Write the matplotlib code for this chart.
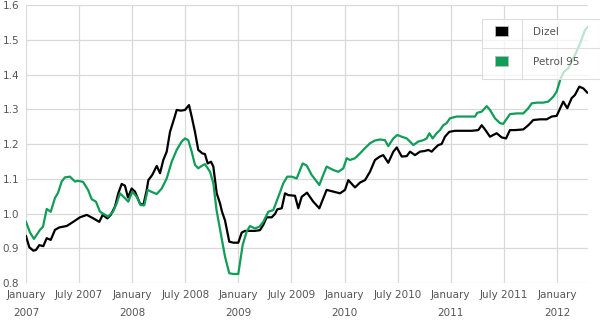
import matplotlib
matplotlib.use("Agg")
import matplotlib.pyplot as plt
from matplotlib.patches import Rectangle
from matplotlib.lines import Line2D

# Fuel prices (EUR per litre), sampled as decimal years
dizel_t = [2007.000, 2007.031, 2007.069, 2007.094, 2007.125, 2007.163, 2007.195, 2007.233,
           2007.273, 2007.314, 2007.383, 2007.445, 2007.508, 2007.572, 2007.634, 2007.690,
           2007.722, 2007.766, 2007.798, 2007.838, 2007.869, 2007.901, 2007.932, 2007.960,
           2007.995, 2008.026, 2008.073, 2008.105, 2008.137, 2008.152, 2008.189, 2008.231,
           2008.262, 2008.293, 2008.325, 2008.356, 2008.396, 2008.419, 2008.460, 2008.497,
           2008.535, 2008.560, 2008.591, 2008.622, 2008.660, 2008.685, 2008.711, 2008.742,
           2008.764, 2008.796, 2008.827, 2008.846, 2008.874, 2008.914, 2008.952, 2008.999,
           2009.031, 2009.062, 2009.109, 2009.156, 2009.203, 2009.234, 2009.266, 2009.314,
           2009.345, 2009.366, 2009.408, 2009.439, 2009.470, 2009.533, 2009.564, 2009.596,
           2009.646, 2009.705, 2009.762, 2009.831, 2009.894, 2009.957, 2010.004, 2010.035,
           2010.098, 2010.145, 2010.192, 2010.239, 2010.286, 2010.333, 2010.364, 2010.411,
           2010.459, 2010.491, 2010.538, 2010.585, 2010.616, 2010.663, 2010.710, 2010.757,
           2010.788, 2010.820, 2010.851, 2010.882, 2010.914, 2010.945, 2010.986, 2011.040,
           2011.118, 2011.197, 2011.259, 2011.291, 2011.322, 2011.369, 2011.400, 2011.432,
           2011.479, 2011.520, 2011.557, 2011.605, 2011.683, 2011.730, 2011.777, 2011.840,
           2011.903, 2011.950, 2011.997, 2012.035, 2012.059, 2012.097, 2012.138, 2012.169,
           2012.210, 2012.248, 2012.285]
dizel = [0.935, 0.903, 0.893, 0.895, 0.909, 0.906, 0.929, 0.924,
         0.953, 0.960, 0.964, 0.976, 0.989, 0.996, 0.986, 0.976,
         0.996, 0.986, 0.996, 1.020, 1.058, 1.085, 1.080, 1.046,
         1.072, 1.063, 1.029, 1.024, 1.068, 1.096, 1.111, 1.137,
         1.116, 1.154, 1.178, 1.235, 1.274, 1.298, 1.296, 1.298,
         1.312, 1.279, 1.235, 1.183, 1.173, 1.171, 1.144, 1.149,
         1.135, 1.058, 1.029, 1.005, 0.980, 0.919, 0.916, 0.916,
         0.945, 0.950, 0.950, 0.950, 0.952, 0.967, 0.989, 0.989,
         0.999, 1.012, 1.015, 1.058, 1.053, 1.051, 1.015, 1.048,
         1.060, 1.034, 1.015, 1.068, 1.063, 1.058, 1.068, 1.096,
         1.075, 1.089, 1.096, 1.120, 1.154, 1.164, 1.168, 1.146,
         1.178, 1.190, 1.164, 1.165, 1.178, 1.168, 1.178, 1.180,
         1.183, 1.178, 1.188, 1.197, 1.200, 1.221, 1.235, 1.238,
         1.238, 1.238, 1.240, 1.254, 1.242, 1.221, 1.226, 1.231,
         1.219, 1.216, 1.240, 1.240, 1.242, 1.254, 1.269, 1.271,
         1.271, 1.279, 1.281, 1.306, 1.322, 1.303, 1.332, 1.341,
         1.365, 1.360, 1.348]

petrol_t = [2007.000, 2007.038, 2007.075, 2007.132, 2007.160, 2007.195, 2007.233, 2007.273,
            2007.301, 2007.336, 2007.367, 2007.414, 2007.461, 2007.490, 2007.537, 2007.584,
            2007.619, 2007.659, 2007.697, 2007.744, 2007.772, 2007.819, 2007.854, 2007.885,
            2007.932, 2007.963, 2008.001, 2008.042, 2008.080, 2008.114, 2008.146, 2008.177,
            2008.231, 2008.278, 2008.325, 2008.372, 2008.419, 2008.466, 2008.497, 2008.528,
            2008.560, 2008.591, 2008.622, 2008.654, 2008.685, 2008.733, 2008.764, 2008.794,
            2008.827, 2008.874, 2008.914, 2008.952, 2008.999, 2009.040, 2009.078, 2009.109,
            2009.156, 2009.197, 2009.234, 2009.282, 2009.329, 2009.376, 2009.423, 2009.460,
            2009.502, 2009.549, 2009.605, 2009.643, 2009.690, 2009.762, 2009.799, 2009.831,
            2009.894, 2009.941, 2009.988, 2010.020, 2010.051, 2010.098, 2010.145, 2010.192,
            2010.239, 2010.286, 2010.333, 2010.380, 2010.411, 2010.459, 2010.496, 2010.538,
            2010.585, 2010.616, 2010.647, 2010.694, 2010.741, 2010.773, 2010.798, 2010.829,
            2010.867, 2010.898, 2010.929, 2010.961, 2010.992, 2011.055, 2011.118, 2011.181,
            2011.228, 2011.250, 2011.291, 2011.338, 2011.369, 2011.416, 2011.463, 2011.494,
            2011.557, 2011.620, 2011.683, 2011.730, 2011.762, 2011.809, 2011.871, 2011.918,
            2011.965, 2011.997, 2012.035, 2012.066, 2012.107, 2012.169, 2012.217, 2012.264,
            2012.295]
petrol = [0.976, 0.945, 0.927, 0.953, 0.962, 1.013, 1.005, 1.045,
          1.059, 1.092, 1.104, 1.106, 1.092, 1.094, 1.091, 1.068,
          1.041, 1.034, 1.005, 0.996, 0.991, 1.005, 1.029, 1.058,
          1.044, 1.034, 1.063, 1.048, 1.024, 1.024, 1.068, 1.063,
          1.056, 1.072, 1.101, 1.149, 1.183, 1.207, 1.216, 1.211,
          1.178, 1.140, 1.130, 1.137, 1.142, 1.120, 1.087, 1.010,
          0.955, 0.876, 0.828, 0.826, 0.826, 0.909, 0.948, 0.964,
          0.957, 0.962, 0.976, 1.005, 1.010, 1.048, 1.087, 1.106,
          1.106, 1.101, 1.144, 1.138, 1.111, 1.082, 1.111, 1.135,
          1.125, 1.120, 1.130, 1.159, 1.154, 1.159, 1.173, 1.188,
          1.202, 1.210, 1.213, 1.211, 1.194, 1.216, 1.226, 1.221,
          1.216, 1.207, 1.197, 1.207, 1.211, 1.216, 1.231, 1.216,
          1.231, 1.240, 1.254, 1.260, 1.274, 1.279, 1.279, 1.279,
          1.279, 1.290, 1.293, 1.309, 1.298, 1.274, 1.260, 1.258,
          1.286, 1.288, 1.288, 1.303, 1.317, 1.319, 1.319, 1.322,
          1.336, 1.351, 1.389, 1.408, 1.418, 1.456, 1.489, 1.528,
          1.538]

series_names = ["Dizel", "Petrol 95"]
series_colors = ["#000000", "#0f9d58"]

x_ticks = [2007.0, 2007.5, 2008.0, 2008.5, 2009.0, 2009.5, 2010.0, 2010.5,
           2011.0, 2011.5, 2012.0]
x_labels = ["January\n2007", "July 2007\n ", "January\n2008", "July 2008\n ",
            "January\n2009", "July 2009\n ", "January\n2010", "July 2010\n ",
            "January\n2011", "July 2011\n ", "January\n2012"]
y_ticks = [0.8, 0.9, 1.0, 1.1, 1.2, 1.3, 1.4, 1.5, 1.6]

W, H = 600, 322
fig = plt.figure(figsize=(W / 100, H / 100), dpi=100)
ax = fig.add_axes([26 / W, 1 - 283 / H, (588 - 26) / W, (283 - 5) / H])

ax.plot(dizel_t, dizel, color=series_colors[0], lw=1.6, zorder=3,
        solid_joinstyle="round")
ax.plot(petrol_t, petrol, color=series_colors[1], lw=1.6, zorder=3,
        solid_joinstyle="round")

ax.set_xlim(2007.0, 2012.292)
ax.set_ylim(0.8, 1.6)
ax.set_xticks(x_ticks)
ax.set_xticklabels(x_labels)
ax.set_yticks(y_ticks)
ax.set_yticklabels([f"{v:.1f}" for v in y_ticks])
for lab in ax.get_xticklabels():
    lab.set_linespacing(1.95)

ax.grid(True, color="#d9d9d9", lw=0.9)
ax.set_axisbelow(True)
for side in ["top", "right", "left", "bottom"]:
    ax.spines[side].set_visible(False)
ax.tick_params(axis="both", length=0, labelsize=7.5, labelcolor="#555555")
ax.tick_params(axis="x", pad=5)
ax.tick_params(axis="y", pad=5)

# Table-style legend box in the top-right corner
def fx(px):
    return px / W

def fy(py):
    return 1 - py / H

box = Rectangle((fx(482), fy(79)), fx(600) - fx(482), fy(19) - fy(79),
                transform=fig.transFigure, facecolor="white", alpha=0.72,
                edgecolor="none", zorder=5)
fig.add_artist(box)
edge = Rectangle((fx(482), fy(79)), fx(600) - fx(482), fy(19) - fy(79),
                 transform=fig.transFigure, facecolor="none",
                 edgecolor="#dddddd", lw=0.8, zorder=6)
fig.add_artist(edge)
fig.add_artist(Line2D([fx(482), fx(600)], [fy(48), fy(48)],
                      transform=fig.transFigure, color="#dddddd", lw=0.8, zorder=6))
fig.add_artist(Line2D([fx(522), fx(522)], [fy(19), fy(79)],
                      transform=fig.transFigure, color="#dddddd", lw=0.8, zorder=6))
for i, (name, col) in enumerate(zip(series_names, series_colors)):
    yc = 31 + i * 30
    fig.add_artist(Rectangle((fx(495), fy(yc + 5)), fx(508) - fx(495), fy(yc - 5) - fy(yc + 5),
                             transform=fig.transFigure, facecolor=col,
                             edgecolor="#bbbbbb", lw=0.6, zorder=7))
    fig.text(fx(533), fy(yc + 1), name, fontsize=7.5, color="#555555",
             va="center", ha="left", zorder=7)

fig.savefig("out.png", dpi=100)
